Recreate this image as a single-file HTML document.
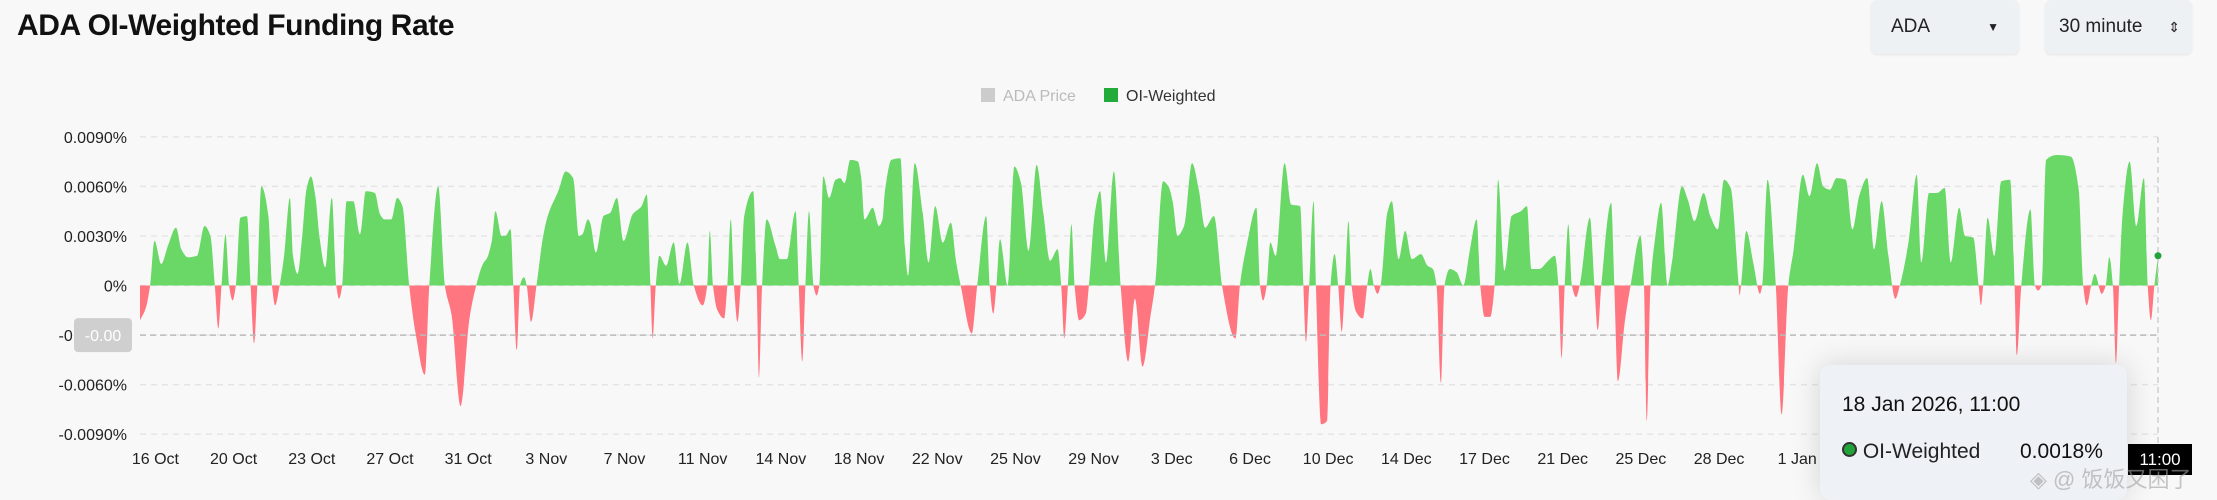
<!DOCTYPE html>
<html><head><meta charset="utf-8">
<style>
body{margin:0;width:2217px;height:500px;background:#f8f8f8;overflow:hidden;font-family:"Liberation Sans","Noto Sans CJK SC",sans-serif;position:relative}
.title{position:absolute;left:17px;top:9px;font-size:30px;font-weight:bold;color:#111;letter-spacing:-0.4px}
.sel{position:absolute;top:0;height:54px;background:#eef1f4;border-radius:6px;box-shadow:0 1px 2px rgba(0,0,0,.08);font-size:19px;color:#222;line-height:54px}
.tip{position:absolute;left:1820px;top:365px;width:307px;height:135px;background:#eef1f5;border-radius:10px;box-shadow:0 0 30px rgba(0,0,0,.15)}
</style></head><body>
<div class="title">ADA OI-Weighted Funding Rate</div>
<div class="sel" style="left:1871px;width:148px"><span style="margin-left:20px">ADA</span><span style="position:absolute;right:20px;font-size:12px">▼</span></div>
<div class="sel" style="left:2045px;width:147px"><span style="margin-left:14px">30 minute</span><span style="position:absolute;right:12px;font-size:14px">⇕</span></div>
<svg id="chart" width="2217" height="500" style="position:absolute;left:0;top:0"></svg>
<div class="tip">
<div style="position:absolute;left:22px;top:28px;font-size:21px;color:#111">18 Jan 2026, 11:00</div>
<div style="position:absolute;left:22px;top:75px;font-size:21px;color:#222"><span style="display:inline-block;width:11px;height:11px;border-radius:50%;background:#22a33a;border:2px solid #333;vertical-align:1px"></span> OI-Weighted</div>
<div style="position:absolute;left:200px;top:75px;font-size:21px;color:#111">0.0018%</div>
</div>
<div style="position:absolute;left:2128px;top:444px;width:64px;height:31px;background:#000;color:#fff;font-size:17px;line-height:31px;text-align:center">11:00</div>
<div style="position:absolute;left:2030px;top:462px;font-size:22px;color:rgba(160,160,160,.6)">◈ @ 饭饭又困了</div>
<script>
const days=[0,0.25,0.45,0.65,0.95,1.25,1.61,1.85,2.15,2.55,2.89,3.15,3.35,3.51,3.65,3.83,3.99,4.15,4.29,4.49,4.79,4.95,5.11,5.25,5.43,5.75,5.91,6.05,6.25,6.45,6.71,6.85,7.05,7.25,7.45,7.65,7.85,8.05,8.29,8.59,8.79,8.91,9.05,9.25,9.55,9.85,10.11,10.51,10.75,10.95,11.25,11.51,11.75,12.05,12.35,12.75,12.95,13.35,13.65,13.95,14.35,14.75,15.05,15.35,15.55,15.75,15.91,16.19,16.35,16.59,16.71,16.87,17.01,17.19,17.31,17.51,17.75,18.05,18.25,18.75,19.05,19.39,19.65,19.81,20.05,20.15,20.41,20.75,21.05,21.35,21.65,22.05,22.45,22.69,22.85,22.95,23.09,23.25,23.55,23.89,24.15,24.51,24.79,25.19,25.39,25.51,25.65,25.85,26.15,26.29,26.45,26.59,26.75,26.89,27.05,27.45,27.61,27.71,27.85,28.05,28.45,28.65,28.95,29.35,29.49,29.65,29.79,29.95,30.15,30.29,30.41,30.59,30.85,
31.14,31.34,31.54,31.80,32.14,32.28,32.44,32.80,33.08,33.24,33.34,33.64,34.04,34.24,34.38,34.68,35.04,35.30,35.60,35.94,36.30,36.54,36.74,37.24,37.48,37.88,38.04,38.20,38.34,38.50,38.84,39.14,39.44,39.78,40.14,40.44,40.74,41.08,41.24,41.38,41.54,41.70,41.84,42.04,42.34,42.48,42.74,42.98,43.24,43.60,43.90,44.24,44.54,44.88,45.24,45.44,45.80,46.04,46.24,46.44,46.74,47.10,47.40,47.68,48.08,48.44,49.04,49.24,49.54,49.98,50.14,50.28,50.44,50.60,50.84,51.24,51.54,51.94,52.08,52.20,52.34,52.54,52.64,52.88,53.14,53.30,53.48,53.64,53.80,53.94,54.10,54.24,54.44,54.74,54.94,55.08,55.24,55.40,55.54,55.84,56.04,56.34,56.64,56.94,57.34,57.64,57.88,58.04,58.24,58.40,58.64,58.94,59.24,59.54,59.84,60.00,60.20,60.44,60.64,60.80,61.08,61.40,
61.82,62.09,62.29,62.63,63.04,63.34,63.50,63.64,63.78,63.94,64.10,64.29,64.45,64.91,65.11,65.26,65.42,65.86,66.00,66.16,66.47,66.73,67.17,67.33,67.45,67.62,67.82,68.10,68.38,68.58,69.03,69.29,69.59,70.00,70.30,70.64,70.91,71.21,71.57,71.61,71.67,71.91,72.22,72.52,72.62,72.86,73.23,73.49,73.79,74.03,74.44,74.74,75.08,75.35,75.65,75.95,76.36,76.66,76.96,77.32,77.63,77.97,78.27,78.58,78.78,79.18,79.54,79.74,80.09,80.45,80.79,81.06,81.44,81.70,82.07,82.31,82.41,82.51,82.71,83.01,83.32,83.72,83.92,84.02,84.22,84.63,84.83,84.97,85.13,85.33,85.84,86.44,86.79,86.99,87.15,87.35,87.51,87.82,88.00,88.16,88.32,88.46,88.60,88.76,89.07,89.37,89.71,89.88,90.02,90.18,90.34];
const rates=[-0.0021,-0.0014,0,0.0027,0.0013,0.0024,0.0035,0.0022,0.0017,0.0018,0.0036,0.003,0,-0.0026,0,0.0031,0,-0.0009,0,0.0041,0.0042,0,-0.0035,0,0.006,0.0042,0,-0.0012,0,0.0018,0.0053,0.0018,0.0007,0.0028,0.0058,0.0066,0.0054,0.0028,0.0011,0.0053,0,-0.0008,0,0.0051,0.0051,0.0031,0.0057,0.0056,0.0043,0.004,0.004,0.0053,0.0048,0,-0.003,-0.0054,0,0.006,0,-0.0018,-0.0073,-0.002,0,0.0013,0.0017,0.0027,0.0045,0.003,0.003,0.0034,0,-0.0039,0,0.0005,0,-0.0022,0,0.003,0.0042,0.0058,0.0069,0.0065,0.003,0.0031,0.004,0.0038,0.002,0.0042,0.0044,0.0053,0.0027,0.0043,0.0048,0.0055,0,-0.0032,0,0.0018,0.0012,0.0026,0.0001,0.0026,0,-0.0012,0,0.0033,0,-0.0015,-0.002,0,0.004,0,-0.0022,0,0.0042,0.0057,0,-0.0056,0,0.004,0.0024,0.0016,0.0016,0.0045,0,-0.0046,0,0.0045,0,-0.0006,0,0.0066,0.0053,
0.0064,0.0065,0.0062,0.0076,0.0075,0.0066,0.004,0.0047,0.0036,0.004,0.0056,0.0076,0.0077,0.0024,0.0006,0.0074,0.0044,0.0014,0.0048,0.0026,0.0038,0.0014,0,-0.0029,0,0.0042,0,-0.0017,0,0.0028,0,0.0072,0.0062,0.0021,0.0073,0.0044,0.0015,0.0022,0,-0.0032,0,0.0037,0,-0.0021,-0.0017,0,0.0043,0.0057,0.0014,0.0069,0,-0.0046,-0.0008,-0.0049,-0.0018,0,0.0063,0.006,0.005,0.003,0.0036,0.0074,0.0058,0.0035,0.0042,0,-0.0032,0,0.0024,0.0047,0,-0.0009,0,0.0026,0.0018,0.0074,0.0049,0.0048,0,-0.0034,0,0.0051,0,-0.0084,-0.0082,0,0.0019,0,-0.0028,0,0.0039,0,-0.0016,-0.002,0,0.001,0,-0.0005,0,0.0044,0.0051,0.0016,0.0033,0.0016,0.0019,0.0012,0.001,0,-0.0059,0,0.001,0.0008,0,0.0022,0.004,0,-0.0019,-0.0019,0,0.0064,0.0009,0.0042,
0.0045,0.0048,0.001,0.001,0.0015,0.0018,0,-0.0044,0,0.0037,0,-0.0007,0,0.0041,0,-0.0027,0,0.005,0,-0.0058,-0.0022,0,0.003,0,-0.0082,0,0.0028,0.005,0,0.0014,0.006,0.0052,0.0039,0.0056,0.0042,0.0034,0.0064,0.0059,0,-0.0006,0,0.0033,0.0014,-0.0005,0,0.0064,0,-0.0078,0,0.0022,0.0067,0.0054,0.0074,0.006,0.0058,0.0065,0.0064,0.0034,0.0054,0.0065,0.0022,0.0051,0.0018,-0.0008,0,0.0027,0.0067,0.0014,0.0056,0.0056,0.0059,0.0014,0.0047,0.003,0.0029,0,-0.0012,0,0.0041,0.0018,0.0063,0.0064,0,-0.0042,0,0.0046,0,-0.0003,0,0.0076,0.0079,0.0078,0.0058,0,-0.0012,0,0.0007,-0.0005,0,0.0017,0,-0.0047,0,0.0044,0.0075,0.0036,0.0065,0,-0.0021,0,0.0018];
const yTicks=[0.009,0.006,0.003,0,-0.003,-0.006,-0.009];
const yTickLabels=["0.0090%","0.0060%","0.0030%","0%","-0.0030%","-0.0060%","-0.0090%"];
const xTickDays=[0.69,4.19,7.69,11.19,14.69,18.19,21.69,25.19,28.69,32.19,35.69,39.19,42.69,46.19,49.69,53.19,56.69,60.19,63.69,67.19,70.69,74.19];
const xTickLabels=["16 Oct","20 Oct","23 Oct","27 Oct","31 Oct","3 Nov","7 Nov","11 Nov","14 Nov","18 Nov","22 Nov","25 Nov","29 Nov","3 Dec","6 Dec","10 Dec","14 Dec","17 Dec","21 Dec","25 Dec","28 Dec","1 Jan"];

const NS="http://www.w3.org/2000/svg";
const svg=document.getElementById('chart');
const X0=140,X1=2158,DMAX=90.34;
const x=d=>X0+(d/DMAX)*(X1-X0);
const y=v=>285.5-v*(148.7/0.009);
function mk(t,a){const e=document.createElementNS(NS,t);for(const k in a)e.setAttribute(k,a[k]);svg.appendChild(e);return e;}

yTicks.forEach((t,i)=>{
  const g=mk('line',{x1:X0,x2:X1,y1:y(t),y2:y(t),stroke:'#e4e4e4','stroke-dasharray':'6 5','stroke-width':1.4});
  
  
  const tx=mk('text',{x:127,y:y(t)+6,'text-anchor':'end','font-size':16,fill:'#222'});
  tx.textContent=yTickLabels[i];
  
  
});
xTickDays.forEach((d,i)=>{
  const tx=mk('text',{x:x(d),y:464,'text-anchor':'middle','font-size':16,fill:'#222'});
  tx.textContent=xTickLabels[i];
  
  
});
// monotone cubic path
function monotone(px,py){
  const n=px.length,m=new Array(n),s=[];
  for(let i=0;i<n-1;i++)s.push((py[i+1]-py[i])/(px[i+1]-px[i]||1e-6));
  m[0]=s[0];m[n-1]=s[n-2];
  for(let i=1;i<n-1;i++){m[i]=(s[i-1]*s[i]<=0)?0:3*(s[i-1]+s[i])/((2*s[i]+s[i-1])/s[i-1]*1+ (s[i]+2*s[i-1])/s[i]*1)*1;
    const h0=px[i]-px[i-1],h1=px[i+1]-px[i];
    if(s[i-1]*s[i]>0){m[i]=(h0+h1)/((2*h1+h0)/3/s[i-1]+(h1+2*h0)/3/s[i])*1;}
  }
  let d='';
  for(let i=0;i<n-1;i++){const h=(px[i+1]-px[i])/3;
    d+=' C'+(px[i]+h).toFixed(1)+','+(py[i]+m[i]*h).toFixed(1)+' '+(px[i+1]-h).toFixed(1)+','+(py[i+1]-m[i+1]*h).toFixed(1)+' '+px[i+1].toFixed(1)+','+py[i+1].toFixed(1);}
  return d;
}
const PX=days.map(x),PY=rates.map(y);
let dpath='M'+PX[0].toFixed(1)+','+y(0).toFixed(1)+' L'+PX[0].toFixed(1)+','+PY[0].toFixed(1)+monotone(PX,PY)+' L'+PX[PX.length-1].toFixed(1)+','+y(0).toFixed(1)+' Z';
const defs=mk('defs',{});
const cp=document.createElementNS(NS,'clipPath');cp.setAttribute('id','pos');
const r1=document.createElementNS(NS,'rect');r1.setAttribute('x',0);r1.setAttribute('y',0);r1.setAttribute('width',2217);r1.setAttribute('height',y(0));cp.appendChild(r1);defs.appendChild(cp);
const cn=document.createElementNS(NS,'clipPath');cn.setAttribute('id','neg');
const r2=document.createElementNS(NS,'rect');r2.setAttribute('x',0);r2.setAttribute('y',y(0));r2.setAttribute('width',2217);r2.setAttribute('height',300);cn.appendChild(r2);defs.appendChild(cn);
const pa=mk('path',{d:dpath,fill:'#69d867','clip-path':'url(#pos)'});


const na=mk('path',{d:dpath,fill:'#ff7680','clip-path':'url(#neg)'});


const ch=mk('line',{x1:X0,x2:X1,y1:y(-0.003),y2:y(-0.003),stroke:'#bbb','stroke-dasharray':'6 4','stroke-width':1.5});


const vc=mk('line',{x1:X1,x2:X1,y1:137,y2:450,stroke:'#ccc','stroke-dasharray':'6 4','stroke-width':1.4});


const yb=mk('rect',{x:74,y:y(-0.003)-17,width:58,height:34,rx:4,fill:'#cfcfcf'});


const ybt=mk('text',{x:103,y:y(-0.003)+6,'text-anchor':'middle','font-size':16,fill:'#fff'});ybt.textContent='-0.00';
const pt=mk('circle',{cx:x(days[days.length-1]),cy:y(rates[rates.length-1]),r:3.5,fill:'#22a33a'});


const l1=mk('rect',{x:981,y:88,width:14,height:14,fill:'#ccc'});


const l1t=mk('text',{x:1003,y:101,'font-size':16,fill:'#bbb'});l1t.textContent='ADA Price';


const l2=mk('rect',{x:1104,y:88,width:14,height:14,fill:'#22aa3a'});


const l2t=mk('text',{x:1126,y:101,'font-size':16,fill:'#333'});l2t.textContent='OI-Weighted';


</script>
</body></html>
